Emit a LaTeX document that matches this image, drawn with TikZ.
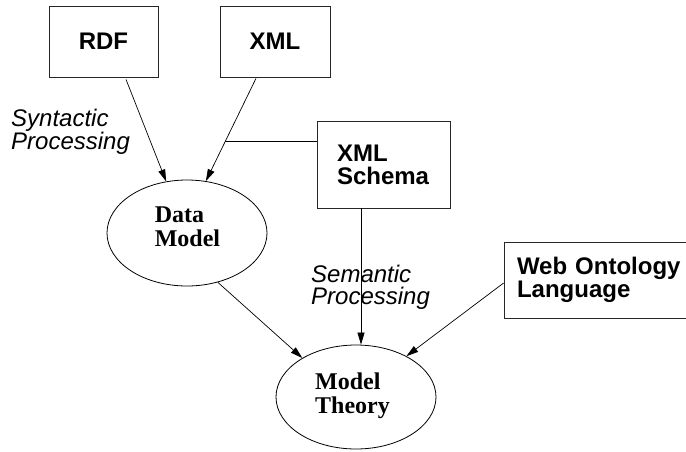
\documentclass[tikz,border=0pt]{standalone}
\usepackage{fontspec}
\setmainfont{Liberation Serif}
\setsansfont{Liberation Sans}
\usetikzlibrary{shapes.geometric,arrows.meta,calc}
\begin{document}
\begin{tikzpicture}[x=1pt,y=-1pt,
  box/.style={draw=black!85, line width=0.8pt, inner sep=0pt},
  ell/.style={draw, ellipse, line width=0.8pt, minimum width=160pt, minimum height=106pt, inner sep=0pt},
  arr/.style={line width=0.7pt, -{Triangle[length=12pt,width=7pt]}},
  ln/.style={line width=0.7pt},
  boxfont/.style={font=\sffamily\bfseries\fontsize{24}{23}\selectfont},
  ellfont/.style={font=\rmfamily\bfseries\fontsize{24}{24}\selectfont, align=left, inner sep=0pt},
  lblfont/.style={font=\sffamily\itshape\fontsize{24}{22}\selectfont, align=left, inner sep=0pt}
]
\useasboundingbox (0,0) rectangle (686,451);

% boxes
\node[box, boxfont, minimum width=109pt, minimum height=71pt] (rdf) at (103.5,41.5) {RDF};
\node[box, boxfont, minimum width=110pt, minimum height=71pt] (xml) at (275,41.5) {XML};
\node[box, boxfont, minimum width=133pt, minimum height=87pt, text width=93pt, align=left] (xs) at (383.5,164.5) {XML\\Schema};
\node[box, boxfont, minimum width=196pt, minimum height=76pt, text width=170pt, align=left] (wo) at (602,280) {Web Ontology\\Language};

% ellipses
\node[ell] (dm) at (187,233) {};
\node[ellfont] (dmtext) at (187.5,227) {Data\\Model};
\node[ell, minimum height=104pt] (mt) at (356,397) {};
\node[ellfont] (mttext) at (352.5,395.5) {Model\\Theory};

% labels
\node[lblfont, anchor=west] (syn) at (11,132) {Syntactic\\Processing};
\node[lblfont, anchor=west] (sem) at (311,287) {Semantic\\Processing};

% connectors
\draw[arr] ([xshift=22.5pt,yshift=-2pt]rdf.south) -- (dm.112.4);
\path ([xshift=-19pt,yshift=-1pt]xml.south) -- (dm.70.8) coordinate[pos=0.6176] (j);
\draw[arr] ([xshift=-19pt,yshift=-1pt]xml.south) -- (dm.70.8);
\draw[ln] (j) -- (j -| xs.west);
\draw[arr] ([xshift=-22.5pt]xs.south) coordinate (xsb) -- (xsb |- mt.north);
\draw[arr] (dm.-58.5) -- (mt.144.4);
\draw[arr] ([yshift=-3pt]wo.west) -- (mt.39.1);
\end{tikzpicture}
\end{document}
